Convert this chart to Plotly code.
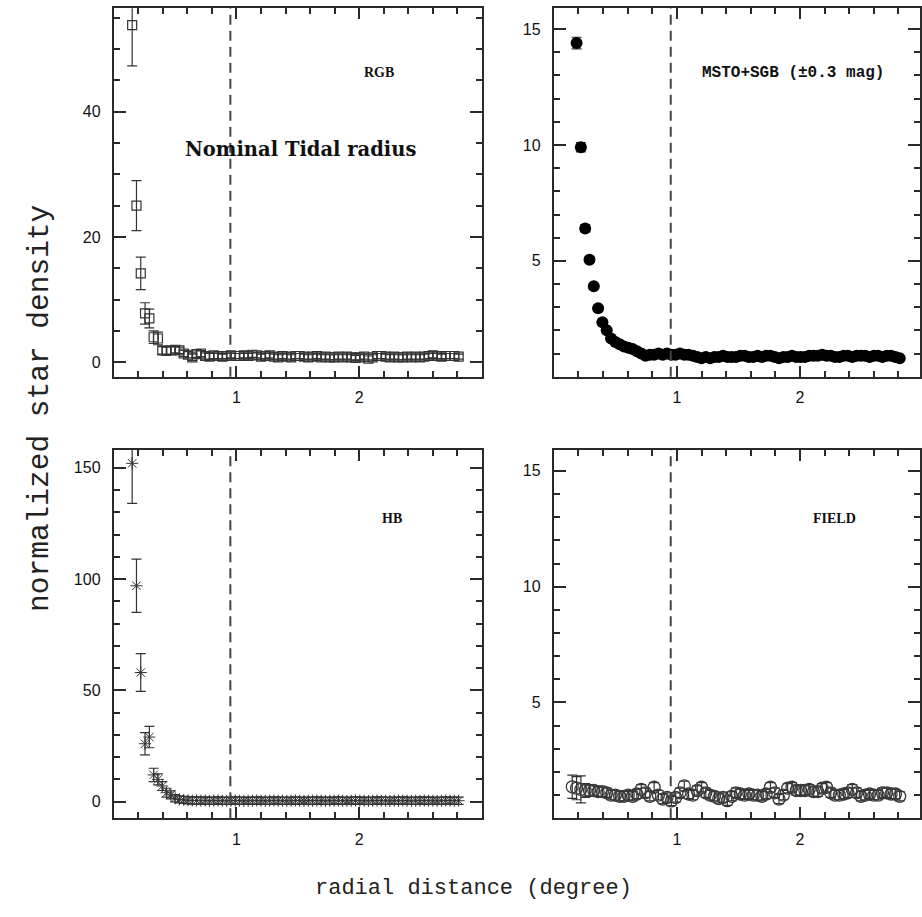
import plotly.graph_objects as go

W, H = 922, 917

# radial bins (degree)
radius = [0.15, 0.185, 0.22, 0.255, 0.29, 0.325, 0.36, 0.395, 0.43, 0.465,
          0.50, 0.535, 0.57, 0.605, 0.64, 0.675, 0.71, 0.745, 0.78, 0.815,
          0.85, 0.885, 0.92, 0.955, 0.99, 1.025, 1.06, 1.095, 1.13, 1.165,
          1.20, 1.235, 1.27, 1.305, 1.34, 1.375, 1.41, 1.445, 1.48, 1.515,
          1.55, 1.585, 1.62, 1.655, 1.69, 1.725, 1.76, 1.795, 1.83, 1.865,
          1.90, 1.935, 1.97, 2.005, 2.04, 2.075, 2.11, 2.145, 2.18, 2.215,
          2.25, 2.285, 2.32, 2.355, 2.39, 2.425, 2.46, 2.495, 2.53, 2.565,
          2.60, 2.635, 2.67, 2.705, 2.74, 2.775, 2.81]

radius_msto = [0.185, 0.22, 0.255, 0.29, 0.325, 0.36, 0.395, 0.43, 0.465,
               0.50, 0.535, 0.57, 0.605, 0.64, 0.675, 0.71, 0.745, 0.78, 0.815,
               0.85, 0.885, 0.92, 0.955, 0.99, 1.025, 1.06, 1.095, 1.13, 1.165,
               1.20, 1.235, 1.27, 1.305, 1.34, 1.375, 1.41, 1.445, 1.48, 1.515,
               1.55, 1.585, 1.62, 1.655, 1.69, 1.725, 1.76, 1.795, 1.83, 1.865,
               1.90, 1.935, 1.97, 2.005, 2.04, 2.075, 2.11, 2.145, 2.18, 2.215,
               2.25, 2.285, 2.32, 2.355, 2.39, 2.425, 2.46, 2.495, 2.53, 2.565,
               2.60, 2.635, 2.67, 2.705, 2.74, 2.775, 2.81]

rgb_density = [53.8, 25.0, 14.2, 7.8, 7.0, 4.0, 3.8, 1.9, 1.8, 1.9,
               2.0, 1.9, 1.4, 1.2, 0.8, 1.3, 1.4, 1.0, 0.9, 1.1,
               1.0, 0.9, 1.0, 1.1, 1.0, 1.0, 1.1, 1.0, 1.2, 1.1,
               0.9, 1.0, 1.1, 0.9, 0.8, 1.0, 0.9, 0.8, 1.0, 1.0,
               0.9, 0.8, 0.9, 1.0, 0.8, 0.9, 0.8, 0.8, 0.9, 0.8,
               0.9, 0.8, 0.7, 0.8, 0.9, 0.6, 0.8, 1.0, 1.0, 0.9,
               0.8, 0.9, 0.8, 0.8, 0.9, 0.8, 0.9, 0.8, 0.9, 1.0,
               1.1, 1.0, 0.9, 1.0, 1.0, 1.0, 0.9]
rgb_err = [6.5, 4.0, 2.6, 1.7, 1.5, 1.0, 1.0, 0.6, 0.6, 0.6,
           0.5, 0.5, 0.5, 0.5, 0.5, 0.5, 0.5, 0.5, 0.5, 0.5,
           0.4, 0.4, 0.4, 0.4, 0.4, 0.4, 0.4, 0.4, 0.4, 0.4,
           0.4, 0.4, 0.4, 0.4, 0.4, 0.4, 0.4, 0.4, 0.4, 0.4,
           0.4, 0.4, 0.4, 0.4, 0.4, 0.4, 0.4, 0.4, 0.4, 0.4,
           0.4, 0.4, 0.4, 0.4, 0.4, 0.4, 0.4, 0.4, 0.4, 0.4,
           0.4, 0.4, 0.4, 0.4, 0.4, 0.4, 0.4, 0.4, 0.4, 0.4,
           0.4, 0.4, 0.4, 0.4, 0.4, 0.4, 0.4]

msto_density = [14.4, 9.9, 6.4, 5.05, 3.9, 2.95, 2.35, 2.0, 1.65, 1.5,
                1.4, 1.3, 1.25, 1.2, 1.1, 1.0, 0.9, 0.95, 0.95, 1.0,
                0.95, 1.0, 0.95, 0.95, 1.0, 0.95, 0.95, 0.9, 0.85, 0.8,
                0.85, 0.8, 0.85, 0.85, 0.9, 0.85, 0.85, 0.85, 0.9, 0.9,
                0.85, 0.85, 0.9, 0.85, 0.9, 0.9, 0.85, 0.8, 0.85, 0.85,
                0.9, 0.85, 0.85, 0.85, 0.9, 0.9, 0.9, 0.95, 0.9, 0.9,
                0.85, 0.85, 0.9, 0.9, 0.85, 0.9, 0.9, 0.9, 0.85, 0.9,
                0.9, 0.85, 0.9, 0.9, 0.85, 0.8]
msto_err = [0.25, 0.2, 0.15, 0.12, 0.1, 0.1, 0.08, 0.08, 0.06, 0.06,
            0.05, 0.05, 0.05, 0.05, 0.05, 0.05, 0.05, 0.05, 0.05, 0.05,
            0.05, 0.05, 0.05, 0.05, 0.05, 0.05, 0.05, 0.05, 0.05, 0.05,
            0.05, 0.05, 0.05, 0.05, 0.05, 0.05, 0.05, 0.05, 0.05, 0.05,
            0.05, 0.05, 0.05, 0.05, 0.05, 0.05, 0.05, 0.05, 0.05, 0.05,
            0.05, 0.05, 0.05, 0.05, 0.05, 0.05, 0.05, 0.05, 0.05, 0.05,
            0.05, 0.05, 0.05, 0.05, 0.05, 0.05, 0.05, 0.05, 0.05, 0.05,
            0.05, 0.05, 0.05, 0.05, 0.05, 0.05]

hb_density = [152, 97, 58, 26, 29, 12, 10, 7, 4, 3,
              1.5, 1.0, 0.8, 0.6, 0.5, 0.5, 0.4, 0.5, 0.3, 0.4,
              0.5, 0.4, 0.3, 0.4, 0.5, 0.4, 0.3, 0.4, 0.4, 0.5,
              0.4, 0.3, 0.4, 0.5, 0.4, 0.4, 0.3, 0.4, 0.5, 0.4,
              0.3, 0.4, 0.4, 0.5, 0.4, 0.3, 0.4, 0.4, 0.5, 0.4,
              0.3, 0.4, 0.5, 0.4, 0.4, 0.3, 0.4, 0.5, 0.4, 0.4,
              0.3, 0.4, 0.4, 0.5, 0.4, 0.3, 0.4, 0.4, 0.5, 0.4,
              0.4, 0.3, 0.4, 0.5, 0.4, 0.4, 0.4]
hb_err = [18, 12, 8.5, 5, 4.8, 3, 2.5, 2, 2, 1.8,
          1.6, 1.6, 1.6, 1.6, 1.6, 1.6, 1.6, 1.6, 1.6, 1.6,
          1.6, 1.6, 1.6, 1.6, 1.6, 1.6, 1.6, 1.6, 1.6, 1.6,
          1.6, 1.6, 1.6, 1.6, 1.6, 1.6, 1.6, 1.6, 1.6, 1.6,
          1.6, 1.6, 1.6, 1.6, 1.6, 1.6, 1.6, 1.6, 1.6, 1.6,
          1.6, 1.6, 1.6, 1.6, 1.6, 1.6, 1.6, 1.6, 1.6, 1.6,
          1.6, 1.6, 1.6, 1.6, 1.6, 1.6, 1.6, 1.6, 1.6, 1.6,
          1.6, 1.6, 1.6, 1.6, 1.6, 1.6, 1.6]

field_density = [1.36, 1.3, 1.25, 1.2, 1.2, 1.2, 1.15, 1.15, 1.1, 1.0,
                 1.0, 0.95, 0.95, 1.0, 0.95, 1.05, 1.25, 1.1, 0.95, 1.34,
                 1.0, 0.83, 0.9, 0.75, 0.9, 1.1, 1.4, 1.05, 1.0, 1.2,
                 1.34, 1.1, 1.0, 0.95, 0.85, 0.9, 0.76, 0.95, 1.1, 1.05,
                 1.0, 1.05, 1.0, 1.0, 0.95, 1.05, 1.34, 1.1, 0.83, 1.0,
                 1.3, 1.34, 1.2, 1.2, 1.2, 1.25, 1.15, 1.15, 1.3, 1.34,
                 1.1, 1.0, 1.0, 1.05, 1.1, 1.25, 1.1, 0.95, 1.0, 1.05,
                 1.0, 1.0, 1.1, 1.1, 1.05, 1.05, 0.95]
field_err = [0.5, 0.5, 0.58, 0.3, 0.25, 0.2, 0.2, 0.2, 0.2, 0.2,
             0.2, 0.2, 0.2, 0.2, 0.2, 0.2, 0.2, 0.2, 0.2, 0.2,
             0.2, 0.2, 0.2, 0.2, 0.2, 0.2, 0.2, 0.2, 0.2, 0.2,
             0.2, 0.2, 0.2, 0.2, 0.2, 0.2, 0.2, 0.2, 0.2, 0.2,
             0.2, 0.2, 0.2, 0.2, 0.2, 0.2, 0.2, 0.2, 0.2, 0.2,
             0.2, 0.2, 0.2, 0.2, 0.2, 0.2, 0.2, 0.2, 0.2, 0.2,
             0.2, 0.2, 0.2, 0.2, 0.2, 0.2, 0.2, 0.2, 0.2, 0.2,
             0.2, 0.2, 0.2, 0.2, 0.2, 0.2, 0.2]

tidal_radius = 0.95

x_tickvals = [1, 2]
x_ticktext = ["1", "2"]
rgb_ticks = [0, 20, 40]
msto_ticks = [5, 10, 15]
hb_ticks = [0, 50, 100, 150]
field_ticks = [5, 10, 15]

panel_labels = ["RGB", "MSTO+SGB (\u00b10.3 mag)", "HB", "FIELD"]

AX = "#2a2a2a"
INK = "#333333"


def px(x):
    return x / W


def py(y):
    return 1 - y / H


fig = go.Figure()

err_style = dict(type="data", color=INK, thickness=1.2, width=5)

fig.add_trace(go.Scatter(
    x=radius, y=rgb_density, mode="markers", xaxis="x", yaxis="y",
    marker=dict(symbol="square-open", size=9, color=INK, line=dict(width=1.2)),
    error_y=dict(array=rgb_err, **err_style), showlegend=False))

fig.add_trace(go.Scatter(
    x=radius_msto, y=msto_density, mode="markers", xaxis="x2", yaxis="y2",
    marker=dict(symbol="circle", size=12, color="#000000", line=dict(width=0)),
    error_y=dict(array=msto_err, **err_style), showlegend=False))

fig.add_trace(go.Scatter(
    x=radius, y=hb_density, mode="markers", xaxis="x3", yaxis="y3",
    marker=dict(symbol="asterisk-open", size=10, color=INK, line=dict(width=1.0)),
    error_y=dict(array=hb_err, **err_style), showlegend=False))

fig.add_trace(go.Scatter(
    x=radius, y=field_density, mode="markers", xaxis="x4", yaxis="y4",
    marker=dict(symbol="circle-open", size=12, color="#3a3a3a", line=dict(width=1.3)),
    error_y=dict(array=field_err, **err_style), showlegend=False))

left_dom = [px(114), px(483)]
right_dom = [px(555), 1.0]
top_dom = [py(376.7), py(8.3)]
bot_dom = [py(818.3), py(450)]

tick_font = dict(family="Liberation Sans, Arial, sans-serif", size=16, color="#111111")


def xaxis(domain, anchor, rng):
    return dict(domain=domain, anchor=anchor, range=rng,
                showgrid=False, zeroline=False,
                showline=True, linecolor=AX, linewidth=2, mirror="ticks",
                ticks="inside", ticklen=11, tickwidth=1.5, tickcolor=AX,
                tickmode="array", tickvals=x_tickvals, ticktext=x_ticktext,
                tickfont=tick_font, ticklabelstandoff=5,
                minor=dict(tickmode="linear", tick0=0, dtick=0.2, ticks="inside",
                           ticklen=6, tickwidth=1.5, tickcolor=AX))


def yaxis(domain, anchor, rng, tv, mdt):
    return dict(domain=domain, anchor=anchor, range=rng,
                showgrid=False, zeroline=False,
                showline=True, linecolor=AX, linewidth=2, mirror="ticks",
                ticks="inside", ticklen=12, tickwidth=1.5, tickcolor=AX,
                tickmode="array", tickvals=tv, ticktext=[str(v) for v in tv],
                tickfont=tick_font, ticklabelstandoff=8,
                minor=dict(tickmode="linear", tick0=0, dtick=mdt, ticks="inside",
                           ticklen=6, tickwidth=1.5, tickcolor=AX))


fig.update_layout(
    width=W, height=H,
    margin=dict(l=0, r=0, t=0, b=0),
    paper_bgcolor="white", plot_bgcolor="white",
    xaxis=xaxis(left_dom, "y", [0, 3]),
    yaxis=yaxis(top_dom, "x", [-2.3, 56.5], rgb_ticks, 5),
    xaxis2=xaxis(right_dom, "y2", [0, 2.975]),
    yaxis2=yaxis(top_dom, "x2", [0, 15.9], msto_ticks, 1),
    xaxis3=xaxis(left_dom, "y3", [0, 3]),
    yaxis3=yaxis(bot_dom, "x3", [-7.5, 158], hb_ticks, 10),
    xaxis4=xaxis(right_dom, "y4", [0, 2.975]),
    yaxis4=yaxis(bot_dom, "x4", [0, 15.9], field_ticks, 1),
)

for xr, yr in [("x", "y"), ("x2", "y2"), ("x3", "y3"), ("x4", "y4")]:
    fig.add_shape(type="line", xref=xr, yref=yr + " domain",
                  x0=tidal_radius, x1=tidal_radius, y0=0, y1=1,
                  line=dict(color="#444444", width=2, dash="10px,6px"))

label_font = dict(family="Liberation Serif, Times New Roman, serif", size=14, color="#111111")
mono_font = dict(family="Liberation Mono, Courier New, monospace", size=16, color="#111111")

annos = [
    (380, 73, "<b>" + panel_labels[0] + "</b>", label_font),
    (795, 73, "<b>" + panel_labels[1] + "</b>", mono_font),
    (393, 518, "<b>" + panel_labels[2] + "</b>", label_font),
    (836, 518, "<b>" + panel_labels[3] + "</b>", label_font),
    (301, 149, "<b>Nominal Tidal radius</b>",
     dict(family="DejaVu Serif, serif", size=19.5, color="#111111")),
]
for x, y, t, f in annos:
    fig.add_annotation(x=px(x), y=py(y), xref="paper", yref="paper", text=t,
                       showarrow=False, font=f, xanchor="center", yanchor="middle")

fig.add_annotation(x=px(40), y=py(408), xref="paper", yref="paper",
                   text="normalized star density", textangle=-90, showarrow=False,
                   font=dict(family="Liberation Mono, Courier New, monospace", size=29.5,
                             color="#222222"),
                   xanchor="center", yanchor="middle")
fig.add_annotation(x=px(475), y=py(888), xref="paper", yref="paper",
                   text="radial distance (degree)", showarrow=False,
                   font=dict(family="Liberation Mono, Courier New, monospace", size=22,
                             color="#222222"),
                   xanchor="center", yanchor="middle")

fig.write_html("out.html")
